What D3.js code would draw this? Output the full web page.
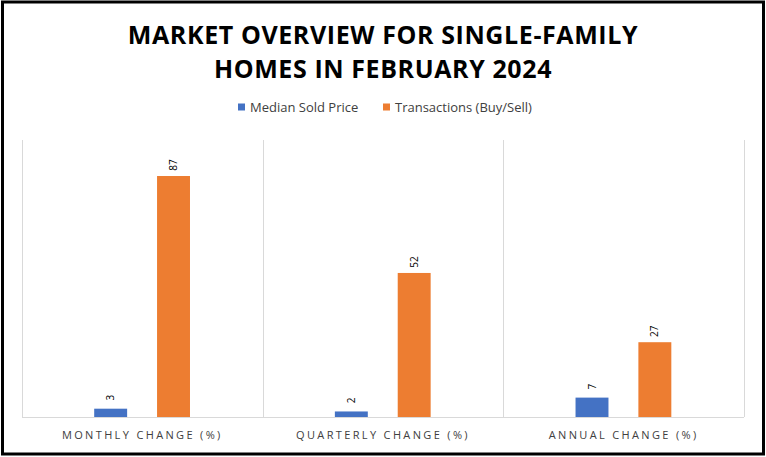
<!DOCTYPE html>
<html>
<head>
<meta charset="utf-8">
<script src="https://cdn.jsdelivr.net/npm/d3@7"></script>
<style>
  html, body { margin: 0; padding: 0; background: #fff; }
  svg { display: block; }
</style>
</head>
<body>
<svg id="chart" width="766" height="457"></svg>
<script>
const categories = ["MONTHLY CHANGE (%)", "QUARTERLY CHANGE (%)", "ANNUAL CHANGE (%)"];
const seriesNames = ["Median Sold Price", "Transactions (Buy/Sell)"];
const medianSoldPrice = [3, 2, 7];
const transactions = [87, 52, 27];
const seriesColors = ["#4472C4", "#ED7D31"];
const titleLines = ["MARKET OVERVIEW FOR SINGLE-FAMILY", "HOMES IN FEBRUARY 2024"];

const seriesValues = [medianSoldPrice, transactions];
const W = 766, H = 457;
const margin = { left: 22, right: 22, top: 140, bottom: 40 };
const svg = d3.select("#chart");

svg.append("rect").attr("x", 2.5).attr("y", 2).attr("width", W - 5).attr("height", H - 5)
  .attr("fill", "#fff").attr("stroke", "#000").attr("stroke-width", 3);

const x0 = d3.scaleBand().domain(categories).range([margin.left, W - margin.right]).padding(0);
const bw = x0.bandwidth();
const x1 = d3.scaleBand().domain(seriesNames).range([bw * 0.3, bw * 0.698]).paddingInner(0.476).paddingOuter(0);
const y = d3.scaleLinear().domain([0, 100]).range([H - margin.bottom, margin.top]);

// vertical category separators
const seps = categories.map(c => x0(c)).concat([x0.range()[1]]);
svg.append("g").selectAll("line").data(seps).join("line")
  .attr("x1", d => Math.round(d) + 0.5).attr("x2", d => Math.round(d) + 0.5)
  .attr("y1", y(100)).attr("y2", y(0))
  .attr("stroke", "#d9d9d9").attr("stroke-width", 1);

// bars
const groups = svg.append("g").selectAll("g").data(categories).join("g")
  .attr("transform", c => `translate(${x0(c)},0)`);
groups.selectAll("rect").data((c, i) => seriesNames.map((s, j) => ({ s, j, v: seriesValues[j][i] })))
  .join("rect")
  .attr("x", d => x1(d.s)).attr("width", x1.bandwidth())
  .attr("y", d => y(d.v)).attr("height", d => y(0) - y(d.v))
  .attr("fill", d => seriesColors[d.j]);
groups.selectAll("text").data((c, i) => seriesNames.map((s, j) => ({ s, j, v: seriesValues[j][i] })))
  .join("text")
  .attr("transform", d => `translate(${x1(d.s) + x1.bandwidth() / 2 + 3.5},${y(d.v) - 11}) rotate(-90)`)
  .attr("text-anchor", "middle")
  .attr("font-family", "Open Sans, sans-serif").attr("font-size", 10).attr("fill", "#000")
  .text(d => d.v);

// x axis
const xAxis = svg.append("g").attr("transform", `translate(0,${y(0)})`)
  .call(d3.axisBottom(x0).tickSize(0).tickPadding(14));
xAxis.select(".domain").attr("stroke", "#d9d9d9").attr("d", `M${margin.left},0.5H${W - margin.right}`);
xAxis.selectAll("text").attr("font-family", "Open Sans, sans-serif").attr("font-size", 11)
  .attr("fill", "#404040").attr("letter-spacing", "2.35px");

// title
svg.append("g").selectAll("text").data(titleLines).join("text")
  .attr("x", W / 2).attr("y", (d, i) => 44 + i * 34)
  .attr("text-anchor", "middle")
  .attr("font-family", "Open Sans, sans-serif").attr("font-weight", 700).attr("font-size", 25)
  .attr("letter-spacing", "0.6px")
  .attr("fill", "#000").text(d => d);

// legend
const legendX = [238, 383];
const leg = svg.append("g").selectAll("g").data(seriesNames).join("g")
  .attr("transform", (d, i) => `translate(${legendX[i]},103.5)`);
leg.append("rect").attr("width", 7).attr("height", 7).attr("fill", (d, i) => seriesColors[i]);
leg.append("text").attr("x", 12).attr("y", 8)
  .attr("font-family", "Open Sans, sans-serif").attr("font-size", 13).attr("fill", "#404040")
  .text(d => d);
</script>
</body>
</html>
